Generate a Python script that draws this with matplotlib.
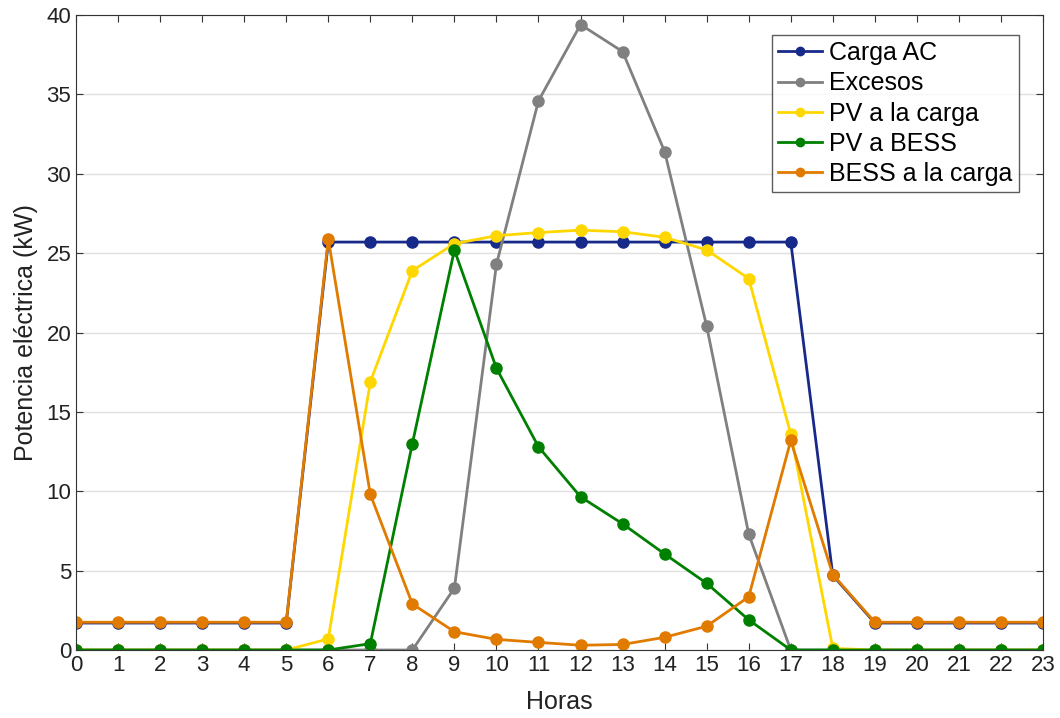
import matplotlib
matplotlib.use("Agg")
import matplotlib.pyplot as plt

plt.rcParams['font.family'] = ['Liberation Sans', 'DejaVu Sans']

horas = list(range(24))
carga_ac = [1.7, 1.7, 1.7, 1.7, 1.7, 1.7, 25.7, 25.7, 25.7, 25.7, 25.7, 25.7,
            25.7, 25.7, 25.7, 25.7, 25.7, 25.7, 4.7, 1.7, 1.7, 1.7, 1.7, 1.7]
excesos = [0, 0, 0, 0, 0, 0, 0, 0, 0, 3.9, 24.3, 34.6,
           39.4, 37.7, 31.4, 20.4, 7.3, 0, 0, 0, 0, 0, 0, 0]
pv_carga = [0, 0, 0, 0, 0, 0, 0.7, 16.9, 23.9, 25.6, 26.1, 26.3,
            26.45, 26.35, 26.0, 25.2, 23.4, 13.6, 0.1, 0, 0, 0, 0, 0]
pv_bess = [0, 0, 0, 0, 0, 0, 0, 0.4, 13.0, 25.2, 17.75, 12.8,
           9.65, 7.95, 6.05, 4.2, 1.9, 0, 0, 0, 0, 0, 0, 0]
bess_carga = [1.75, 1.75, 1.75, 1.75, 1.75, 1.75, 25.9, 9.8, 2.9, 1.15, 0.67, 0.48,
              0.3, 0.35, 0.8, 1.5, 3.35, 13.2, 4.75, 1.75, 1.75, 1.75, 1.75, 1.75]

series = [
    ("Carga AC", carga_ac, "#172a8a"),
    ("Excesos", excesos, "#808080"),
    ("PV a la carga", pv_carga, "#ffd700"),
    ("PV a BESS", pv_bess, "#008000"),
    ("BESS a la carga", bess_carga, "#e07b00"),
]

fig = plt.figure(figsize=(10.6, 7.18), dpi=100)
ax = fig.add_axes([0.0717, 0.0947, 0.9123, 0.8843])

for name, vals, col in series:
    ax.plot(horas, vals, color=col, marker='o', markersize=8, linewidth=2, label=name)

ax.set_xlim(0, 23)
ax.set_ylim(0, 40)
ax.set_xticks(horas)
ax.set_yticks(range(0, 41, 5))
ax.tick_params(direction='in', labelsize=16, top=True, right=True, length=5,
               color='#333333', labelcolor='#222222')
ax.grid(axis='y', color='#e0e0e0', linewidth=1)
ax.set_axisbelow(True)
for s in ax.spines.values():
    s.set_color('#333333')
ax.set_xlabel("Horas", fontsize=18, labelpad=10, color='#222222')
ax.set_ylabel("Potencia eléctrica (kW)", fontsize=18, labelpad=6, color='#222222')

leg = ax.legend(loc='upper right', fontsize=18, frameon=True, fancybox=False,
                edgecolor='#333333', handlelength=1.75, borderpad=0.25,
                labelspacing=0.25, handletextpad=0.3, markerscale=0.75,
                borderaxespad=0, bbox_to_anchor=(0.975, 0.969))
leg.get_frame().set_linewidth(1)

fig.savefig("out.png", dpi=100)
